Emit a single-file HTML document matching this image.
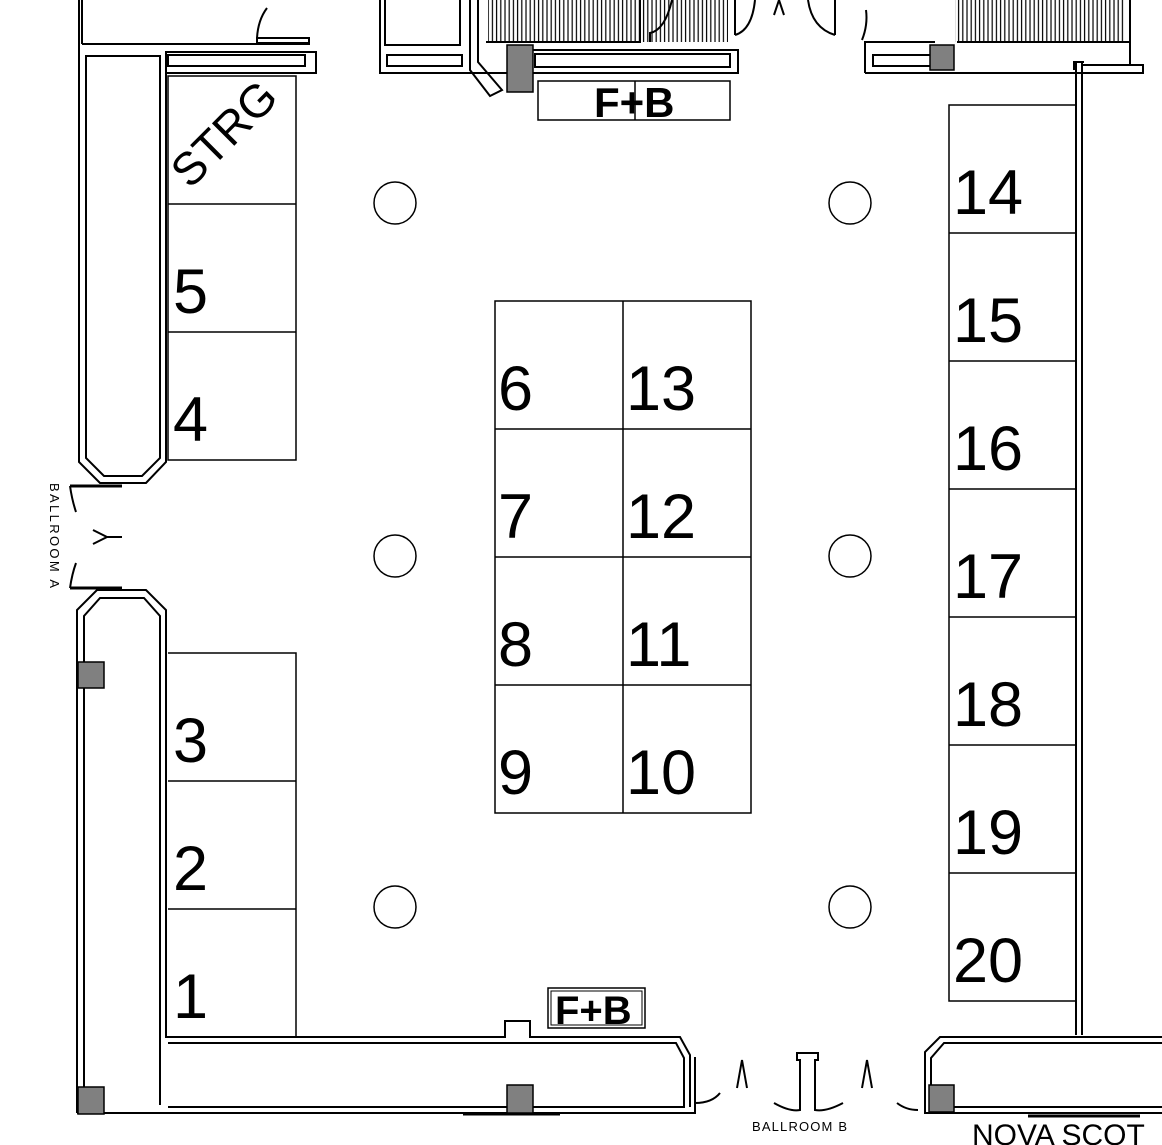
<!DOCTYPE html>
<html><head><style>
html,body{margin:0;padding:0;background:#fff;}
svg{display:block;}
text{font-family:"Liberation Sans",sans-serif;}
</style></head><body>
<svg width="1162" height="1145" viewBox="0 0 1162 1145" xmlns="http://www.w3.org/2000/svg">
<defs>
<pattern id="hatch" width="4.2" height="10" patternUnits="userSpaceOnUse">
<line x1="1" y1="0" x2="1" y2="10" stroke="#000" stroke-width="1.2"/>
</pattern>
</defs>
<g fill="none" stroke="#000" stroke-width="2">
<line x1="79" y1="0" x2="79" y2="46"/>
<line x1="82" y1="0" x2="82" y2="44"/>
<line x1="82" y1="44" x2="310" y2="44"/>
<rect x="257" y="38" width="52" height="5"/>
<path d="M257 38 Q258 20 267 8"/>
<path d="M79 46 L79 462 L100 483 L146 483 L166 462 L166 52 L316 52 L316 73 L166 73"/>
<path d="M86 56 L160 56 L160 458 L142 476 L104 476 L86 458 Z"/>
<rect x="168" y="55" width="137" height="11"/>
<path d="M70 486 L122 486" stroke-width="3"/>
<path d="M70 486 Q72 500 76 512"/>
<path d="M70 588 L122 588" stroke-width="3"/>
<path d="M70 588 Q72 574 76 563"/>
<path d="M93 530 L107 537 L93 544 M107 537 L122 537"/>
<path d="M77 1113 L77 610 L97 590 L146 590 L166 610 L166 1037 L505 1037 L505 1021 L530 1021 L530 1037 L680 1037 L690 1055 L690 1107"/>
<path d="M84 1105 L84 616 L100 598 L144 598 L160 616 L160 1105"/>
<path d="M168 1043 L676 1043 L684 1058 L684 1107 L168 1107"/>
<path d="M77 1113 L695 1113 L695 1057"/>
<path d="M695 1103 Q712 1103 720 1093"/>
<path d="M737 1088 L742 1060 L747 1088"/>
<path d="M862 1088 L867 1060 L872 1088"/>
<path d="M774 1103 Q790 1112 800 1110 L800 1060 L797 1060 L797 1053 L818 1053 L818 1060 L815 1060 L815 1110 Q826 1112 843 1103"/>
<path d="M897 1103 Q906 1110 918 1110"/>
<path d="M1162 1037 L940 1037 L925 1052 L925 1113 L1162 1113"/>
<path d="M1162 1043 L944 1043 L931 1058 L931 1107 L1162 1107"/>
<path d="M1028 1116 L1140 1116" stroke-width="3"/>
<path d="M463 1114 L560 1114" stroke-width="3"/>
<line x1="1076" y1="62" x2="1076" y2="1035"/>
<line x1="1082" y1="62" x2="1082" y2="1035"/>
<path d="M380 0 L380 73 L662 73"/>
<path d="M385 0 L385 45 L460 45 L460 0"/>
<rect x="387" y="55" width="75" height="11"/>
<path d="M470 0 L470 70 L490 96 L502 90 L478 62 L478 0"/>
<rect x="488" y="0" width="240" height="42" fill="url(#hatch)" stroke="none"/>
<path d="M486 42 L640 42 L640 0"/>
<rect x="535" y="54" width="195" height="13"/>
<path d="M530 50 L738 50 L738 73 L530 73"/>
<path d="M650 42 L650 33 Q665 30 672 0"/>
<path d="M735 35 L735 0 M735 35 Q752 30 755 0"/>
<path d="M835 35 L835 0 M835 35 Q812 28 808 0"/>
<path d="M774 15 L779 0 L784 15"/>
<path d="M865 73 L865 42 L935 42"/>
<rect x="873" y="55" width="60" height="11"/>
<path d="M865 73 L1143 73 L1143 65 L1082 65"/>
<path d="M862 40 Q868 25 866 10"/>
<rect x="955" y="0" width="170" height="42" fill="url(#hatch)" stroke="none"/>
<path d="M957 42 L1130 42 M1130 0 L1130 65"/>
<path d="M1074 70 L1074 62 L1084 62"/>
</g>
<g fill="#808080" stroke="#000" stroke-width="1.5">
<rect x="507" y="45" width="26" height="47"/>
<rect x="930" y="45" width="24" height="25"/>
<rect x="78" y="662" width="26" height="26"/>
<rect x="78" y="1087" width="26" height="27"/>
<rect x="507" y="1085" width="26" height="28"/>
<rect x="929" y="1085" width="25" height="27"/>
</g>
<g fill="none" stroke="#000" stroke-width="1.5">
<rect x="538" y="81" width="192" height="39"/>
<line x1="635" y1="81" x2="635" y2="120"/>
<rect x="548" y="988" width="97" height="40"/>
<rect x="551" y="991" width="91" height="34" stroke-width="1"/>
</g>
<text x="594" y="117" font-size="42" font-weight="bold">F+B</text>
<text x="555" y="1024" font-size="40" font-weight="bold">F+B</text>
<g fill="none" stroke="#000" stroke-width="1.5">
<circle cx="395" cy="203" r="21"/><circle cx="850" cy="203" r="21"/>
<circle cx="395" cy="556" r="21"/><circle cx="850" cy="556" r="21"/>
<circle cx="395" cy="907" r="21"/><circle cx="850" cy="907" r="21"/>
</g>
<g fill="none" stroke="#000" stroke-width="1.5">
<rect x="168" y="76" width="128" height="384"/>
<line x1="168" y1="204" x2="296" y2="204"/><line x1="168" y1="332" x2="296" y2="332"/>
<path d="M168 653 L296 653 L296 1037"/>
<line x1="168" y1="781" x2="296" y2="781"/><line x1="168" y1="909" x2="296" y2="909"/>
<rect x="495" y="301" width="256" height="512"/>
<line x1="623" y1="301" x2="623" y2="813"/>
<line x1="495" y1="429" x2="751" y2="429"/><line x1="495" y1="557" x2="751" y2="557"/><line x1="495" y1="685" x2="751" y2="685"/>
<rect x="949" y="105" width="127" height="896"/>
<line x1="949" y1="233" x2="1076" y2="233"/><line x1="949" y1="361" x2="1076" y2="361"/><line x1="949" y1="489" x2="1076" y2="489"/>
<line x1="949" y1="617" x2="1076" y2="617"/><line x1="949" y1="745" x2="1076" y2="745"/><line x1="949" y1="873" x2="1076" y2="873"/>
</g>
<g font-size="63" fill="#000">
<text x="190" y="190" font-size="46" transform="rotate(-45 190 190)">STRG</text>
<text x="173" y="313">5</text><text x="173" y="441">4</text>
<text x="173" y="762">3</text><text x="173" y="890">2</text><text x="173" y="1018">1</text>
<text x="498" y="410">6</text><text x="626" y="410">13</text>
<text x="498" y="538">7</text><text x="626" y="538">12</text>
<text x="498" y="666">8</text><text x="626" y="666">11</text>
<text x="498" y="794">9</text><text x="626" y="794">10</text>
<text x="953" y="214">14</text><text x="953" y="342">15</text><text x="953" y="470">16</text>
<text x="953" y="598">17</text><text x="953" y="726">18</text><text x="953" y="854">19</text><text x="953" y="982">20</text>
</g>
<text x="752" y="1131" font-size="13" textLength="95">BALLROOM B</text>
<text x="50" y="483" font-size="13" transform="rotate(90 50 483)" textLength="105">BALLROOM A</text>
<text x="972" y="1145" font-size="30">NOVA SCOT</text>
</svg>
</body></html>
